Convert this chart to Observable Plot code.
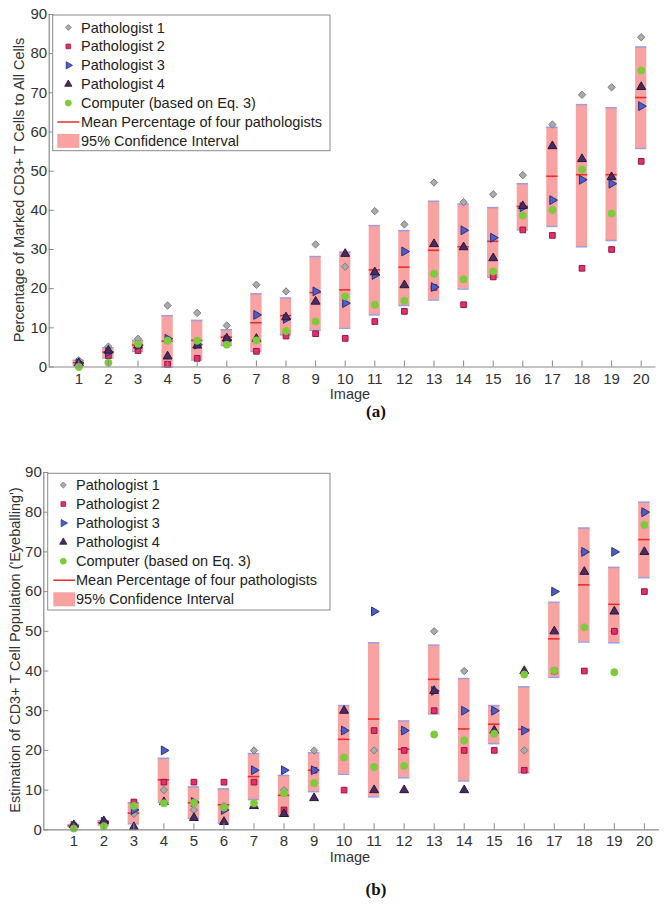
<!DOCTYPE html>
<html>
<head>
<meta charset="utf-8">
<script src="https://cdn.jsdelivr.net/npm/d3@7"></script>
<script src="https://cdn.jsdelivr.net/npm/@observablehq/plot@0.6"></script>
<style>
  body { margin: 0; background: #fff; }
  #fig { position: relative; width: 666px; height: 905px; background: #fff; }
  #fig svg { position: absolute; left: 0; }
</style>
</head>
<body>
<div id="fig"></div>
<script>
// ---------- data ----------
const images = [1, 2, 3, 4, 5, 6, 7, 8, 9, 10, 11, 12, 13, 14, 15, 16, 17, 18, 19, 20];
const yTicks = [0, 10, 20, 30, 40, 50, 60, 70, 80, 90];
const legendLabels = ["Pathologist 1", "Pathologist 2", "Pathologist 3", "Pathologist 4",
  "Computer (based on Eq. 3)", "Mean Percentage of four pathologists", "95% Confidence Interval"];

// (a) Percentage of marked CD3+ T cells to all cells
const p1A = [1.7, 5.2, 7.2, 15.7, 13.8, 10.6, 21.0, 19.3, 31.3, 25.6, 39.8, 36.4, 47.1, 42.1, 44.1, 49.0, 61.9, 69.5, 71.4, 84.2];
const p2A = [0.6, 2.9, 4.2, 0.7, 2.2, 7.0, 4.0, 7.9, 8.5, 7.3, 11.6, 14.2, 20.3, 15.9, 23.0, 35.0, 33.6, 25.2, 30.0, 52.5];
const p3A = [1.0, 3.8, 5.5, 7.2, 5.7, 6.9, 13.3, 12.3, 19.3, 16.3, 23.5, 29.5, 20.4, 34.9, 33.0, 40.8, 42.6, 47.8, 46.8, 66.6];
const p4A = [1.0, 4.2, 5.5, 2.7, 5.5, 7.3, 7.2, 12.7, 16.7, 28.9, 24.2, 20.9, 31.4, 30.6, 27.8, 41.1, 56.4, 53.1, 48.5, 71.5];
const compA = [0.0, 1.1, 5.9, 6.7, 6.7, 5.7, 6.8, 9.2, 11.6, 18.0, 15.9, 16.9, 23.8, 22.4, 24.4, 38.7, 40.1, 50.4, 39.2, 75.7];
const meanA = [1.1, 3.8, 5.6, 6.6, 6.8, 7.6, 11.3, 13.1, 19.0, 19.7, 24.8, 25.5, 29.8, 30.7, 32.1, 41.0, 48.7, 49.1, 49.1, 68.8];
const ciLoA = [0.4, 2.3, 4.0, 0.0, 1.8, 5.5, 4.0, 8.2, 9.4, 9.9, 13.3, 15.7, 17.1, 19.9, 22.9, 35.0, 35.9, 30.7, 32.3, 55.8];
const ciHiA = [1.7, 4.9, 6.8, 13.1, 11.9, 9.5, 18.7, 17.6, 28.2, 29.3, 36.1, 34.8, 42.3, 41.6, 40.7, 46.8, 61.2, 67.0, 66.2, 81.7];

// (b) Estimation of CD3+ T cell population ('Eyeballing')
const p1B = [1, 1.5, 4, 10, 5, 6, 20, 10, 20, 25, 20, 25, 50, 40, 30, 20, 40, 70, 50, 80];
const p2B = [1, 1.5, 7, 12, 12, 12, 12, 5, 15, 10, 25, 20, 30, 20, 20, 15, 40, 40, 50, 60];
const p3B = [1, 2, 5, 20, 7, 5, 15, 15, 15, 25, 55, 25, 35, 30, 30, 25, 60, 70, 70, 80];
const p4B = [1.2, 2.2, 0.7, 7, 3, 2, 6, 4, 8, 30, 10, 10, 35, 10, 25, 40, 50, 65, 55, 70];
const compB = [0.3, 0.9, 6.0, 6.7, 6.8, 5.6, 6.7, 9.2, 11.8, 18.2, 15.8, 16.1, 24.0, 22.5, 24.2, 39.1, 40.1, 51.0, 39.7, 76.8];
const meanB = [1.0, 1.8, 4.2, 12.6, 6.8, 6.3, 13.4, 8.7, 15.0, 22.8, 27.9, 20.3, 37.9, 25.4, 26.6, 25.3, 48.1, 61.7, 56.8, 73.1];
const ciLoB = [0.8, 1.2, 1.5, 6.9, 2.9, 1.7, 7.6, 3.4, 9.6, 14.0, 8.3, 13.1, 29.2, 12.3, 21.7, 14.4, 38.4, 47.3, 47.1, 63.5];
const ciHiB = [1.3, 2.3, 6.8, 18.0, 10.8, 10.3, 19.2, 13.7, 19.4, 31.3, 47.1, 27.4, 46.5, 38.1, 31.3, 36.0, 57.3, 76.0, 66.1, 82.5];

// ---------- styling ----------
const FONT = '"Liberation Sans", Arial, Helvetica, sans-serif';
const AXIS = "#8a8a8a";
const TXT = "#333";
const C = {
  p1: {fill: "#ababab", stroke: "#7b7b7b"},
  p2: {fill: "#e4306a", stroke: "#9a1640"},
  p3: {fill: "#4d5ec4", stroke: "#2c3186"},
  p4: {fill: "#4b2a63", stroke: "#2b1838"},
  comp: {fill: "#7ccb3b", stroke: "#7ccb3b"},
  mean: "#ee2b2b", ci: "#f8a2a2", ciEdge: "#9d9de0"
};

// right-pointing triangle symbol
const triRight = {
  draw(ctx, size) {
    const h = Math.sqrt(size / (3 * Math.sqrt(3)));
    ctx.moveTo(2 * h, 0);
    ctx.lineTo(-h, -Math.sqrt(3) * h);
    ctx.lineTo(-h, Math.sqrt(3) * h);
    ctx.closePath();
  }
};

function makePanel(cfg) {
  const rows = images.map((img, i) => ({
    img, p1: cfg.p1[i], p2: cfg.p2[i], p3: cfg.p3[i], p4: cfg.p4[i],
    comp: cfg.comp[i], mean: cfg.mean[i], lo: cfg.lo[i], hi: cfg.hi[i]
  }));
  const half = 0.19;
  const xa = d => d.img - half, xb = d => d.img + half;
  const svg = Plot.plot({
    width: 666, height: cfg.height,
    marginLeft: cfg.ml, marginRight: cfg.mr, marginTop: cfg.mt, marginBottom: cfg.mb,
    style: {fontFamily: FONT, fontSize: "15px", color: TXT, background: "#fff", overflow: "visible"},
    x: {domain: [0, 20.5], label: null},
    y: {domain: [0, 90], label: null},
    marks: [
      Plot.rect(rows, {x1: xa, x2: xb, y1: "lo", y2: "hi", fill: C.ci}),
      Plot.ruleY(rows, {y: "lo", x1: xa, x2: xb, stroke: C.ciEdge, strokeWidth: 1.5}),
      Plot.ruleY(rows, {y: "hi", x1: xa, x2: xb, stroke: C.ciEdge, strokeWidth: 1.5}),
      Plot.ruleY(rows, {y: "mean", x1: xa, x2: xb, stroke: C.mean, strokeWidth: 1.6}),
      Plot.dot(rows, {x: "img", y: "p1", symbol: "diamond2", r: 3.3, ...C.p1, strokeWidth: 1}),
      Plot.dot(rows, {x: "img", y: "p2", symbol: "square", r: 3.2, ...C.p2, strokeWidth: 1}),
      Plot.dot(rows, {x: "img", y: "p3", symbol: triRight, r: 3.3, ...C.p3, strokeWidth: 1}),
      Plot.dot(rows, {x: "img", y: "p4", symbol: "triangle", r: 3.3, ...C.p4, strokeWidth: 1}),
      Plot.dot(rows, {x: "img", y: "comp", symbol: "circle", r: 3.7, ...C.comp, strokeWidth: 0.5}),
      Plot.ruleX([0], {stroke: AXIS, strokeWidth: 1.2}),
      Plot.ruleY([0], {stroke: AXIS, strokeWidth: 1.2}),
      Plot.axisX({ticks: images, tickSize: 6, dy: -6, tickFormat: () => "", stroke: AXIS, label: null}),
      Plot.axisX({ticks: images, tickSize: 0, tickPadding: 6, tickFormat: d => String(d), label: null, fill: TXT}),
      Plot.axisY({ticks: yTicks, tickSize: 5, dx: 5, tickFormat: () => "", stroke: AXIS, label: null}),
      Plot.axisY({ticks: yTicks, tickSize: 0, tickPadding: 2, label: null, fill: TXT})
    ]
  });
  svg.style.top = cfg.top + "px";
  const s = d3.select(svg);

  // y title
  s.append("text")
    .attr("transform", `translate(${cfg.ytX},${cfg.ytY}) rotate(-90)`)
    .attr("text-anchor", "middle").attr("dominant-baseline", "central")
    .attr("fill", TXT).style("font-size", "14.5px").text(cfg.ytitle);
  // x title
  s.append("text").attr("x", cfg.xtX).attr("y", cfg.xtY)
    .attr("text-anchor", "middle").attr("dominant-baseline", "central")
    .attr("fill", TXT).style("font-size", "14.5px").text("Image");
  // caption
  s.append("text").attr("x", cfg.capX).attr("y", cfg.capY)
    .attr("text-anchor", "middle").attr("dominant-baseline", "central")
    .attr("fill", "#111").style("font-family", '"Liberation Serif", "Times New Roman", serif')
    .style("font-weight", "bold").style("font-size", "17px").text(cfg.caption);

  // legend
  const L = cfg.legend;
  const g = s.append("g").style("font-size", "14.5px").attr("text-anchor", "start");
  g.append("rect").attr("x", L.x).attr("y", L.y).attr("width", L.w).attr("height", L.h)
    .attr("fill", "#fff").attr("stroke", "#8a8a8a").attr("stroke-width", 1);
  const sym = (type, r) => d3.symbol().type(type).size(Math.PI * r * r)();
  const legendSyms = [
    [d3.symbolDiamond2, 2.7, C.p1], [d3.symbolSquare, 2.6, C.p2], [triRight, 2.7, C.p3],
    [d3.symbolTriangle, 2.7, C.p4], [d3.symbolCircle, 3.0, C.comp]
  ];
  legendLabels.forEach((lab, i) => {
    const cy = L.row0 + i * L.step;
    if (i < 5) {
      const [t, r, col] = legendSyms[i];
      g.append("path").attr("d", sym(t, r)).attr("transform", `translate(${L.mx},${cy})`)
        .attr("fill", col.fill).attr("stroke", col.stroke).attr("stroke-width", 0.8);
    } else if (i === 5) {
      g.append("line").attr("x1", L.lx0).attr("x2", L.lx1).attr("y1", cy).attr("y2", cy)
        .attr("stroke", C.mean).attr("stroke-width", 1.5);
    } else {
      g.append("rect").attr("x", L.lx0).attr("y", cy - 7).attr("width", L.lx1 - L.lx0).attr("height", 14)
        .attr("fill", C.ci);
    }
    g.append("text").attr("x", L.tx).attr("y", cy).attr("dominant-baseline", "central")
      .attr("text-anchor", "start").attr("fill", "#222").text(lab);
  });
  return svg;
}

const fig = document.getElementById("fig");
fig.appendChild(makePanel({
  top: 0, height: 420, ml: 48.7, mr: 10.5, mt: 14, mb: 53.5,
  p1: p1A, p2: p2A, p3: p3A, p4: p4A, comp: compA, mean: meanA, lo: ciLoA, hi: ciHiA,
  ytitle: "Percentage of Marked CD3+ T Cells to All Cells", ytX: 19, ytY: 190,
  xtX: 350, xtY: 394, caption: "(a)", capX: 376, capY: 411,
  legend: {x: 52.7, y: 15, w: 277.3, h: 135.7, row0: 27.5, step: 18.9, mx: 68.3, lx0: 57.3, lx1: 79.3, tx: 81}
}));
fig.appendChild(makePanel({
  top: 420, height: 485, ml: 43.3, mr: 7.1, mt: 52, mb: 75.7,
  p1: p1B, p2: p2B, p3: p3B, p4: p4B, comp: compB, mean: meanB, lo: ciLoB, hi: ciHiB,
  ytitle: "Estimation of CD3+ T Cell Population ('Eyeballing')", ytX: 14.5, ytY: 230,
  xtX: 350, xtY: 437, caption: "(b)", capX: 376, capY: 469,
  legend: {x: 47.7, y: 53.3, w: 282.3, h: 136.7, row0: 65, step: 19.05, mx: 63.3, lx0: 53.3, lx1: 75, tx: 76}
}));
</script>
</body>
</html>
